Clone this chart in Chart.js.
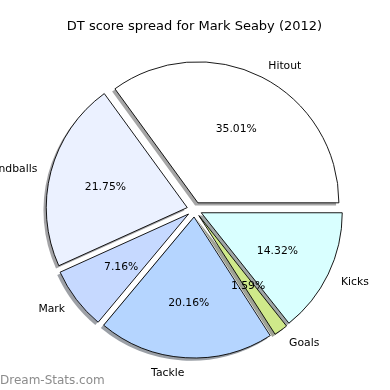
<!DOCTYPE html>
<html><head><meta charset="utf-8">
<script src="https://cdn.jsdelivr.net/npm/chart.js@4/dist/chart.umd.min.js"></script>
<style>html,body{margin:0;padding:0;background:#fff}#wrap{width:390px;height:390px;position:relative}</style>
</head><body><div id="wrap"><canvas id="c"></canvas></div>
<script>
const chartTitle = 'DT score spread for Mark Seaby (2012)';
const categories = ['Hitout', 'Handballs', 'Mark', 'Tackle', 'Goals', 'Kicks'];
const percentages = [35.01, 21.75, 7.16, 20.16, 1.59, 14.32];
const sliceColors = ['#ffffff', '#ebf1ff', '#c6d9ff', '#b5d5ff', '#cfe98a', '#d9ffff'];
const watermark = 'Dream-Stats.com';

// matplotlib draws counter-clockwise from 3 o'clock; Chart.js draws clockwise -> reverse order
const order = categories.map((_, i) => i).reverse();

const EXPLODE = 7.5, SHADOW_DX = -2.8, SHADOW_DY = 2.8, TEXT_DY = 1.5;
const LABEL_FONT = '10.8px "DejaVu Sans"';

function shadowColor(hex) {
  const n = parseInt(hex.slice(1), 16);
  const r = Math.round(((n >> 16) & 255) * 0.3), g = Math.round(((n >> 8) & 255) * 0.3), b = Math.round((n & 255) * 0.3);
  return `rgba(${r},${g},${b},0.5)`;
}

const explodePlugin = {
  id: 'explode',
  beforeDatasetDraw(chart, args) {
    const ctx = chart.ctx, arcs = args.meta.data;
    arcs.forEach(arc => {
      const mid = (arc.startAngle + arc.endAngle) / 2;
      const cx = arc.x + Math.cos(mid) * EXPLODE + SHADOW_DX;
      const cy = arc.y + Math.sin(mid) * EXPLODE + SHADOW_DY;
      ctx.save();
      ctx.beginPath();
      ctx.moveTo(cx, cy);
      ctx.arc(cx, cy, arc.outerRadius, arc.startAngle, arc.endAngle);
      ctx.closePath();
      ctx.fillStyle = shadowColor(arc.options.backgroundColor);
      ctx.fill();
      ctx.restore();
    });
    arcs.forEach(arc => {
      const mid = (arc.startAngle + arc.endAngle) / 2;
      ctx.save();
      ctx.translate(Math.cos(mid) * EXPLODE, Math.sin(mid) * EXPLODE);
      arc.draw(ctx);
      ctx.restore();
    });
    return false;
  },
  afterDatasetsDraw(chart) {
    const ctx = chart.ctx, meta = chart.getDatasetMeta(0);
    const labels = chart.data.labels, values = chart.data.datasets[0].data;
    const total = values.reduce((a, b) => a + b, 0);
    ctx.save();
    ctx.fillStyle = '#000';
    ctx.font = LABEL_FONT;
    ctx.textBaseline = 'middle';
    meta.data.forEach((arc, i) => {
      const mid = (arc.startAngle + arc.endAngle) / 2;
      const cx = arc.x + Math.cos(mid) * EXPLODE, cy = arc.y + Math.sin(mid) * EXPLODE;
      const R = arc.outerRadius;
      const lx = cx + Math.cos(mid) * R * 1.1, ly = cy + Math.sin(mid) * R * 1.1 + TEXT_DY;
      ctx.textAlign = Math.cos(mid) > 0 ? 'left' : 'right';
      ctx.fillText(labels[i], lx, ly);
      const px = cx + Math.cos(mid) * R * 0.6, py = cy + Math.sin(mid) * R * 0.6 + TEXT_DY;
      ctx.textAlign = 'center';
      ctx.fillText((values[i] / total * 100).toFixed(2) + '%', px, py);
    });
    ctx.restore();
  },
  afterDraw(chart) {
    const ctx = chart.ctx;
    ctx.save();
    ctx.fillStyle = '#000';
    ctx.font = '13px "DejaVu Sans"';
    ctx.textAlign = 'center';
    ctx.textBaseline = 'alphabetic';
    ctx.fillText(chartTitle, 194.5, 29.5);
    ctx.fillStyle = '#8c8c8c';
    ctx.font = '12px "DejaVu Sans"';
    ctx.textAlign = 'left';
    ctx.fillText(watermark, 0, 384);
    ctx.restore();
  }
};

new Chart(document.getElementById('c'), {
  type: 'pie',
  data: {
    labels: order.map(i => categories[i]),
    datasets: [{
      data: order.map(i => percentages[i]),
      backgroundColor: order.map(i => sliceColors[i]),
      borderColor: '#000',
      borderWidth: 0.9,
      borderJoinStyle: 'miter',
      offset: 0,
      hoverOffset: 0
    }]
  },
  options: {
    responsive: true,
    maintainAspectRatio: false,
    animation: false,
    rotation: 90,
    radius: 141,
    layout: {padding: {top: 29, bottom: 0, left: 0, right: 1}},
    plugins: {legend: {display: false}, tooltip: {enabled: false}, title: {display: false}},
    events: []
  },
  plugins: [explodePlugin]
});
</script>
</body></html>
